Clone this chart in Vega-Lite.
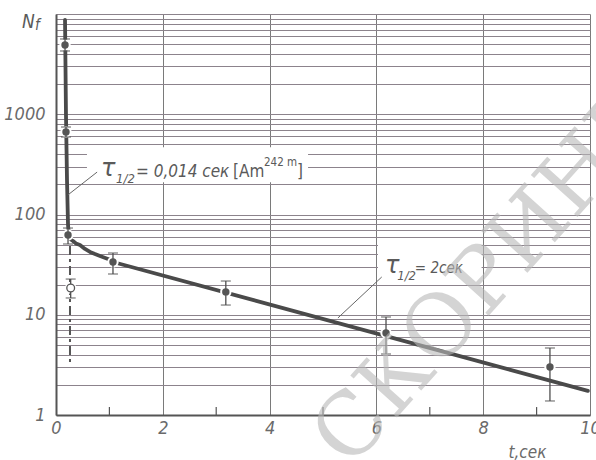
{
  "$schema": "https://vega.github.io/schema/vega-lite/v6.json",
  "width": 534,
  "height": 401,
  "autosize": {"type": "none"},
  "padding": {"left": 56, "top": 14, "right": 6, "bottom": 45},
  "background": "#ffffff",
  "config": {
    "view": {"stroke": null},
    "axis": {"labelFont": "DejaVu Sans Condensed, DejaVu Sans, sans-serif", "titleFont": "DejaVu Sans Condensed, DejaVu Sans, sans-serif"}
  },
  "datasets": {
    "curve": [
      {"t": 0.169, "N": 8730},
      {"t": 0.187, "N": 984},
      {"t": 0.206, "N": 221},
      {"t": 0.225, "N": 78.6},
      {"t": 0.243, "N": 61},
      {"t": 0.262, "N": 57},
      {"t": 0.318, "N": 54.4},
      {"t": 0.375, "N": 51.4},
      {"t": 0.449, "N": 49.6},
      {"t": 0.543, "N": 45.3},
      {"t": 0.637, "N": 42.3},
      {"t": 0.73, "N": 40.3},
      {"t": 0.824, "N": 38.5},
      {"t": 0.974, "N": 36},
      {"t": 1.067, "N": 33.6},
      {"t": 9.96, "N": 1.74}
    ],
    "points": [
      {"t": 0.169, "N": 4909, "lo": 4276, "hi": 5634, "kind": "filled"},
      {"t": 0.187, "N": 665, "lo": 593, "hi": 746, "kind": "filled"},
      {"t": 0.225, "N": 62.5, "lo": 50.8, "hi": 73.3, "kind": "filled"},
      {"t": 0.275, "N": 18.5, "lo": 14.7, "hi": 22.7, "kind": "open"},
      {"t": 1.067, "N": 33.6, "lo": 25.5, "hi": 41.3, "kind": "filled"},
      {"t": 3.18, "N": 16.9, "lo": 12.5, "hi": 21.7, "kind": "filled"},
      {"t": 6.18, "N": 6.58, "lo": 4.06, "hi": 9.5, "kind": "filled"},
      {"t": 9.25, "N": 3.01, "lo": 1.38, "hi": 4.66, "kind": "filled"}
    ],
    "dash": [{"t": 0.262, "N": 48.5}, {"t": 0.262, "N": 3.3}],
    "minorticks": [
      {"t": 1, "N": 1, "N2": 1.2},
      {"t": 3, "N": 1, "N2": 1.2},
      {"t": 5, "N": 1, "N2": 1.2},
      {"t": 7, "N": 1, "N2": 1.2},
      {"t": 9, "N": 1, "N2": 1.2}
    ],
    "boxes": [
      {"t": 0.58, "t2": 4.72, "N": 210, "N2": 468},
      {"t": 6.03, "t2": 7.97, "N": 21, "N2": 52}
    ],
    "leaders": [
      {"t": 0.77, "N": 265, "t2": 0.225, "N2": 157},
      {"t": 6.1, "N": 23.8, "t2": 5.28, "N2": 9.3}
    ],
    "labels": [
      {"t": 0.843, "N": 242, "text": "τ", "role": "tau"},
      {"t": 1.124, "N": 206, "text": "1/2", "role": "sub"},
      {"t": 1.498, "N": 237, "text": "= 0,014 сек", "role": "main"},
      {"t": 3.315, "N": 237, "text": "[Am", "role": "upright"},
      {"t": 3.895, "N": 305, "text": "242 m", "role": "sup"},
      {"t": 4.513, "N": 237, "text": "]", "role": "upright"},
      {"t": 6.16, "N": 26.1, "text": "τ", "role": "tau"},
      {"t": 6.39, "N": 22.2, "text": "1/2", "role": "sub"},
      {"t": 6.72, "N": 26.1, "text": "= 2сек", "role": "main2"},
      {"t": -0.637, "N": 7250, "text": "N", "role": "axisN"},
      {"t": -0.393, "N": 6930, "text": "f", "role": "axisf"}
    ],
    "watermark": [{"t": 5.5, "N": 0.283, "text": "СКОРИНЫ"}]
  },
  "encoding": {
    "x": {
      "field": "t", "type": "quantitative",
      "scale": {"domain": [0, 10], "nice": false, "zero": false},
      "axis": {
        "values": [0, 2, 4, 6, 8, 10], "grid": true, "gridColor": "#7a7a7a", "gridWidth": 1,
        "ticks": false, "domainColor": "#555555", "domainWidth": 2,
        "labelFontSize": 18, "labelFontStyle": "italic", "labelColor": "#6a6a6a", "labelPadding": 4,
        "labelFlush": false, "labelOverlap": false,
        "title": "t,сек", "titleX": 452, "titleY": 42, "titleAlign": "left", "titleBaseline": "alphabetic",
        "titleFontSize": 17, "titleFontStyle": "italic", "titleFontWeight": "normal", "titleColor": "#6a6a6a"
      }
    },
    "y": {
      "field": "N", "type": "quantitative",
      "scale": {"type": "log", "domain": [1, 10000], "nice": false},
      "axis": {
        "values": [1, 2, 3, 4, 5, 6, 7, 8, 9, 10, 20, 30, 40, 50, 60, 70, 80, 90, 100, 200, 300, 400, 500, 600, 700, 800, 900, 1000, 2000, 3000, 4000, 5000, 6000, 7000, 8000, 9000, 10000],
        "grid": true, "gridColor": "#8c838c", "gridWidth": 1.1,
        "ticks": false, "domainColor": "#555555", "domainWidth": 2,
        "labelExpr": "indexof([1, 10, 100, 1000], datum.value) >= 0 ? format(datum.value, 'd') : ''",
        "labelFontSize": 18, "labelFontStyle": "italic", "labelColor": "#6a6a6a", "labelPadding": 11,
        "labelOverlap": false, "labelBound": false,
        "title": null
      }
    }
  },
  "layer": [
    {
      "data": {"name": "boxes"},
      "mark": {"type": "rect", "fill": "#ffffff", "stroke": null},
      "encoding": {"x2": {"field": "t2"}, "y2": {"field": "N2"}}
    },
    {
      "data": {"name": "minorticks"},
      "mark": {"type": "rule", "color": "#555555", "strokeWidth": 1.2},
      "encoding": {"y2": {"field": "N2"}}
    },
    {
      "data": {"name": "curve"},
      "mark": {"type": "line", "color": "#4a4a4a", "strokeWidth": 3.8, "strokeCap": "round", "strokeJoin": "round"},
      "encoding": {}
    },
    {
      "data": {"name": "dash"},
      "mark": {"type": "line", "color": "#555555", "strokeWidth": 2, "strokeDash": [9, 4, 3, 4]},
      "encoding": {}
    },
    {
      "data": {"name": "points"},
      "mark": {"type": "point", "filled": true, "color": "#ffffff", "size": 130, "opacity": 1},
      "encoding": {}
    },
    {
      "data": {"name": "points"},
      "mark": {"type": "rule", "color": "#4f4f4f", "strokeWidth": 1.3},
      "encoding": {"y": {"field": "lo"}, "y2": {"field": "hi"}}
    },
    {
      "data": {"name": "points"},
      "mark": {"type": "tick", "orient": "horizontal", "color": "#4f4f4f", "size": 10, "thickness": 1.3},
      "encoding": {"y": {"field": "lo", "type": "quantitative"}}
    },
    {
      "data": {"name": "points"},
      "mark": {"type": "tick", "orient": "horizontal", "color": "#4f4f4f", "size": 10, "thickness": 1.3},
      "encoding": {"y": {"field": "hi", "type": "quantitative"}}
    },
    {
      "data": {"name": "points"},
      "transform": [{"filter": "datum.kind === 'filled'"}],
      "mark": {"type": "point", "filled": true, "color": "#555555", "size": 55, "opacity": 1},
      "encoding": {}
    },
    {
      "data": {"name": "points"},
      "transform": [{"filter": "datum.kind === 'open'"}],
      "mark": {"type": "point", "filled": false, "fill": "#ffffff", "stroke": "#555555", "strokeWidth": 1.3, "size": 60, "opacity": 1},
      "encoding": {}
    },
    {
      "data": {"name": "leaders"},
      "mark": {"type": "rule", "color": "#666666", "strokeWidth": 1},
      "encoding": {"x2": {"field": "t2"}, "y2": {"field": "N2"}}
    },
    {
      "data": {"name": "labels"},
      "transform": [{"filter": "datum.role === 'tau'"}],
      "mark": {"type": "text", "align": "left", "baseline": "alphabetic", "font": "DejaVu Sans", "fontStyle": "italic", "fontSize": 24, "color": "#5a5a5a"},
      "encoding": {"text": {"field": "text"}}
    },
    {
      "data": {"name": "labels"},
      "transform": [{"filter": "datum.role === 'sub'"}],
      "mark": {"type": "text", "align": "left", "baseline": "alphabetic", "font": "DejaVu Sans Condensed, DejaVu Sans, sans-serif", "fontStyle": "italic", "fontSize": 13, "color": "#5a5a5a"},
      "encoding": {"text": {"field": "text"}}
    },
    {
      "data": {"name": "labels"},
      "transform": [{"filter": "datum.role === 'main'"}],
      "mark": {"type": "text", "align": "left", "baseline": "alphabetic", "font": "DejaVu Sans Condensed, DejaVu Sans, sans-serif", "fontStyle": "italic", "fontSize": 17, "color": "#5a5a5a"},
      "encoding": {"text": {"field": "text"}}
    },
    {
      "data": {"name": "labels"},
      "transform": [{"filter": "datum.role === 'main2'"}],
      "mark": {"type": "text", "align": "left", "baseline": "alphabetic", "font": "DejaVu Sans Condensed, DejaVu Sans, sans-serif", "fontStyle": "italic", "fontSize": 15, "color": "#5a5a5a"},
      "encoding": {"text": {"field": "text"}}
    },
    {
      "data": {"name": "labels"},
      "transform": [{"filter": "datum.role === 'upright'"}],
      "mark": {"type": "text", "align": "left", "baseline": "alphabetic", "font": "DejaVu Sans Condensed, DejaVu Sans, sans-serif", "fontSize": 17, "color": "#5a5a5a"},
      "encoding": {"text": {"field": "text"}}
    },
    {
      "data": {"name": "labels"},
      "transform": [{"filter": "datum.role === 'sup'"}],
      "mark": {"type": "text", "align": "left", "baseline": "alphabetic", "font": "DejaVu Sans Condensed, DejaVu Sans, sans-serif", "fontSize": 11.5, "color": "#5a5a5a"},
      "encoding": {"text": {"field": "text"}}
    },
    {
      "data": {"name": "labels"},
      "transform": [{"filter": "datum.role === 'axisN'"}],
      "mark": {"type": "text", "align": "left", "baseline": "alphabetic", "font": "DejaVu Sans Condensed, DejaVu Sans, sans-serif", "fontStyle": "italic", "fontSize": 19, "color": "#5a5a5a"},
      "encoding": {"text": {"field": "text"}}
    },
    {
      "data": {"name": "labels"},
      "transform": [{"filter": "datum.role === 'axisf'"}],
      "mark": {"type": "text", "align": "left", "baseline": "alphabetic", "font": "DejaVu Sans Condensed, DejaVu Sans, sans-serif", "fontStyle": "italic", "fontSize": 15, "color": "#5a5a5a"},
      "encoding": {"text": {"field": "text"}}
    },
    {
      "data": {"name": "watermark"},
      "mark": {"type": "text", "align": "left", "baseline": "alphabetic", "font": "DejaVu Serif", "fontSize": 86, "angle": -48, "color": "#b8b8b8", "opacity": 0.6},
      "encoding": {"text": {"field": "text"}}
    }
  ]
}
